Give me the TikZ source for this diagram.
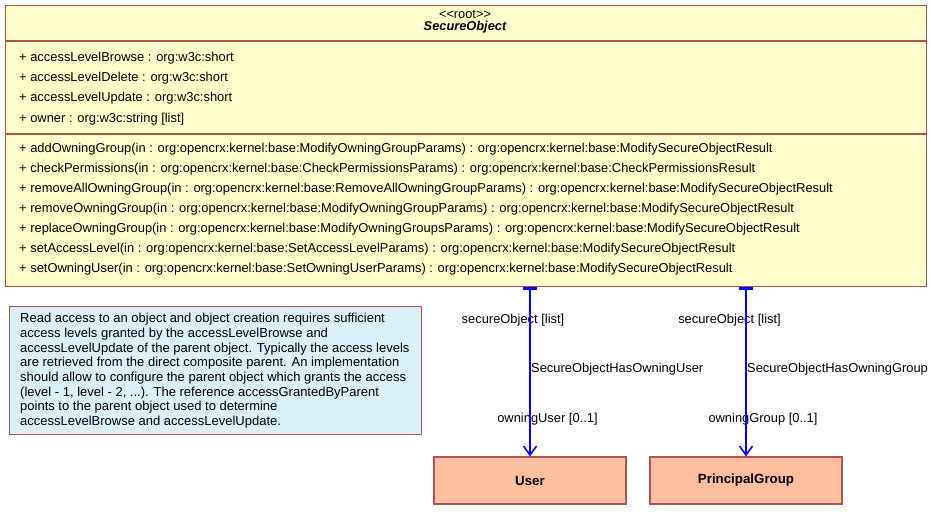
\documentclass[tikz,border=0pt]{standalone}
\usepackage{fontspec}
\setmainfont{Liberation Sans}
\usetikzlibrary{arrows.meta,positioning}
\definecolor{classfill}{RGB}{255,255,204}
\definecolor{classline}{RGB}{176,80,80}
\definecolor{notefill}{RGB}{218,240,248}
\definecolor{entfill}{RGB}{255,191,160}
\definecolor{assoc}{RGB}{0,0,255}

\begin{document}
\begin{tikzpicture}[x=1pt,y=-1pt,
		every node/.style={font=\fontsize{12.9}{14}\selectfont,inner sep=0pt},
		umlbox/.style={draw=classline,line width=1.2pt,fill=classfill},
		notebox/.style={draw=classline,line width=1.2pt,fill=notefill},
		entity/.style={draw=classline,line width=1.2pt,fill=entfill,minimum width=192pt,minimum height=47pt,font=\fontsize{13.3}{14}\selectfont\bfseries},
		row/.style={anchor=west},
		assocline/.style={draw=assoc,line width=1.6pt,{Bar[width=14pt,line width=2.5pt]}-{Straight Barb[length=9pt,width=13pt]}}]
	\useasboundingbox (0,0) rectangle (931,511);
	% class box with its compartments
	\node[umlbox,anchor=north west,minimum width=921pt,minimum height=281pt] (secobj) at (5,5) {};
	\draw[classline,line width=1.2pt] (5,41) -- (926,41) (5,134) -- (926,134);
	\node[font=\fontsize{12.8}{14}\selectfont] (stereo) at (465,14) {<{}<root>{}>};
	\node[font=\fontsize{12.8}{14}\selectfont\bfseries\itshape] (clsname) at (465,27.5) {SecureObject};
	\foreach \attr [count=\i] in {{+ accessLevelBrowse : org:w3c:short},{+ accessLevelDelete : org:w3c:short},{+ accessLevelUpdate : org:w3c:short},{+ owner : org:w3c:string [list]}}
		\node[row] (attr\i) at (19,{37.5+20.3*\i}) {\attr};
	\foreach \op [count=\i] in {%
		{+ addOwningGroup(in : org:opencrx:kernel:base:ModifyOwningGroupParams) : org:opencrx:kernel:base:ModifySecureObjectResult},
		{+ checkPermissions(in : org:opencrx:kernel:base:CheckPermissionsParams) : org:opencrx:kernel:base:CheckPermissionsResult},
		{+ removeAllOwningGroup(in : org:opencrx:kernel:base:RemoveAllOwningGroupParams) : org:opencrx:kernel:base:ModifySecureObjectResult},
		{+ removeOwningGroup(in : org:opencrx:kernel:base:ModifyOwningGroupParams) : org:opencrx:kernel:base:ModifySecureObjectResult},
		{+ replaceOwningGroup(in : org:opencrx:kernel:base:ModifyOwningGroupsParams) : org:opencrx:kernel:base:ModifySecureObjectResult},
		{+ setAccessLevel(in : org:opencrx:kernel:base:SetAccessLevelParams) : org:opencrx:kernel:base:ModifySecureObjectResult},
		{+ setOwningUser(in : org:opencrx:kernel:base:SetOwningUserParams) : org:opencrx:kernel:base:ModifySecureObjectResult}}
		\node[row] (op\i) at (19,{129+20*\i}) {\op};
	% note
	\node[notebox,anchor=north west,minimum width=412pt,minimum height=128pt] (note) at (9,306) {};
	\node[anchor=north west,align=left,font=\fontsize{13}{14.7}\selectfont] (notetext) at (20,313) {Read access to an object and object creation requires sufficient\\
		access levels granted by the accessLevelBrowse and\\
		accessLevelUpdate of the parent object. Typically the access levels\\
		are retrieved from the direct composite parent. An implementation\\
		should allow to configure the parent object which grants the access\\
		(level - 1, level - 2, ...). The reference accessGrantedByParent\\
		points to the parent object used to determine\\
		accessLevelBrowse and accessLevelUpdate.};
	% target classes
	\node[entity] (user) at (530,480.5) {User};
	\node[entity] (group) at (746,480.5) {PrincipalGroup};
	% association labels
	\node (srcuser) at (513,320) {secureObject [list]};
	\node[anchor=west] (assocuser) at (531,369) {SecureObjectHasOwningUser};
	\node (dstuser) at (547.5,419) {owningUser [0..1]};
	\node (srcgroup) at (729.5,320) {secureObject [list]};
	\node[anchor=west] (assocgroup) at (747,369) {SecureObjectHasOwningGroup};
	\node (dstgroup) at (763,419) {owningGroup [0..1]};
	% associations
	\draw[assocline] (secobj.south -| user.north) -- (user.north);
	\draw[assocline] (secobj.south -| group.north) -- (group.north);
\end{tikzpicture}
\end{document}
